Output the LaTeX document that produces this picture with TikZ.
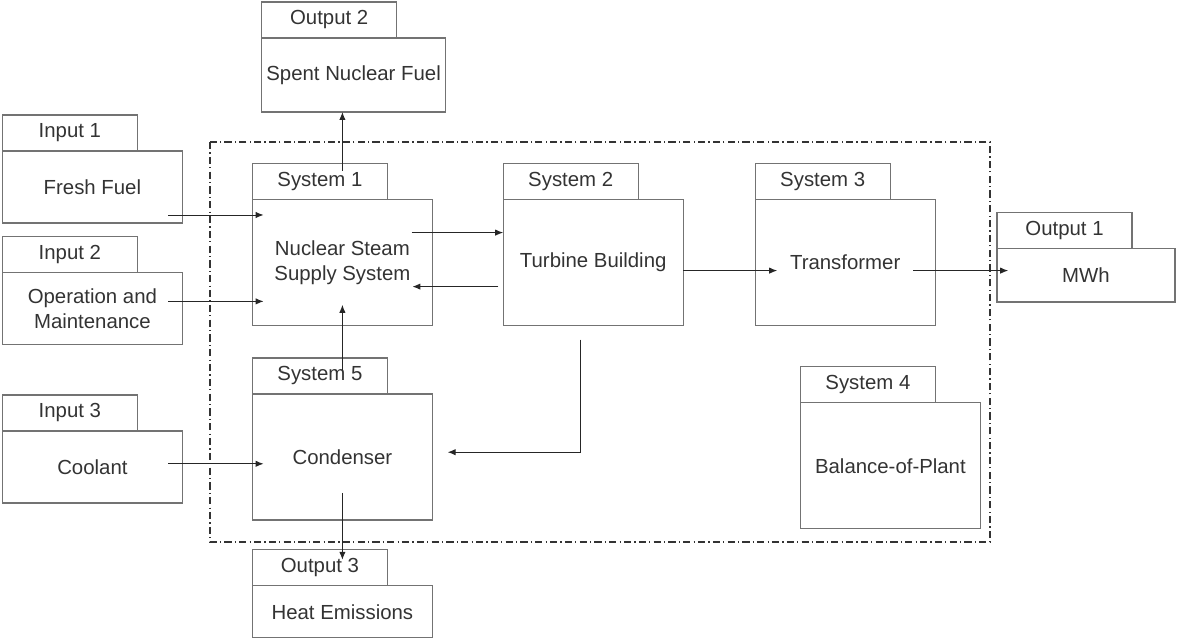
\documentclass[tikz,border=0pt]{standalone}
\usepackage{fontspec}
\setmainfont{Liberation Sans}
\usepackage{tikz}
\usetikzlibrary{arrows.meta,positioning,calc}
\definecolor{boxgray}{gray}{0.45}
\definecolor{textgray}{gray}{0.2}

\begin{document}
\begin{tikzpicture}[
        body/.style={rectangle, draw=boxgray, line width=0.9pt, outer sep=0pt, minimum width=4.5cm, align=center, text=textgray, font=\fontsize{14.5}{18}\selectfont},
        tab/.style={rectangle, draw=boxgray, line width=0.9pt, outer sep=0pt, minimum width=3.375cm, minimum height=0.9cm, anchor=south west, text=textgray, font=\fontsize{14.5}{18}\selectfont},
        arrow/.style={-{Latex[length=2mm,width=1.6mm]}, line width=0.7pt, black!85},
        frame/.style={line width=0.8pt, black!80, dash pattern=on 0.18cm off 0.08cm on 0.03cm off 0.08cm}
    ]
    \useasboundingbox (0,0) rectangle (29.425,16.025);

    % inputs
    \node[body, minimum height=1.8cm] (in1) at (2.31,11.35) {Fresh Fuel};
    \node[tab] (in1t) at (in1.north west) {Input 1};
    \node[body, minimum height=1.8cm] (in2) at (2.31,8.31) {Operation and\\Maintenance};
    \node[tab] (in2t) at (in2.north west) {Input 2};
    \node[body, minimum height=1.8cm] (in3) at (2.31,4.35) {Coolant};
    \node[tab] (in3t) at (in3.north west) {Input 3};

    % systems
    \draw[frame] (5.25,12.475) rectangle (24.75,2.475);
    \node[body, minimum height=3.15cm] (s1) at (8.56,9.46) {Nuclear Steam\\Supply System};
    \node[tab] (s1t) at (s1.north west) {System 1};
    \node[body, minimum height=3.15cm] (s2) at (14.83,9.46) {Turbine Building};
    \node[tab] (s2t) at (s2.north west) {System 2};
    \node[body, minimum height=3.15cm] (s3) at (21.13,9.46) {Transformer};
    \node[tab] (s3t) at (s3.north west) {System 3};
    \node[body, minimum height=3.15cm] (s4) at (22.26,4.38) {Balance-of-Plant};
    \node[tab] (s4t) at (s4.north west) {System 4};
    \node[body, minimum height=3.15cm] (s5) at (8.56,4.6) {Condenser};
    \node[tab] (s5t) at (s5.north west) {System 5};

    % outputs
    \node[body, minimum height=1.33cm, minimum width=4.45cm] (out1) at (27.15,9.14) {MWh};
    \node[tab] (out1t) at (out1.north west) {Output 1};
    \node[body, minimum height=1.85cm] (out2) at (8.84,14.15) {Spent Nuclear Fuel};
    \node[tab] (out2t) at (out2.north west) {Output 2};
    \node[body, minimum height=1.3cm] (out3) at (8.56,0.73) {Heat Emissions};
    \node[tab] (out3t) at (out3.north west) {Output 3};

    \draw[arrow] ($(in1.east)+(-0.35,-0.7)$) -- ($(in1.east -| s1.west)+(0.28,-0.7)$);
    \draw[arrow] ($(in2.east)+(-0.35,0.18)$) -- ($(in2.east -| s1.west)+(0.28,0.18)$);
    \draw[arrow] ($(in3.east)+(-0.35,0.08)$) -- ($(in3.east -| s5.west)+(0.28,0.08)$);
    \draw[arrow] ($(s1.east)+(-0.52,0.75)$) -- ($(s1.east -| s2.west)+(0,0.75)$);
    \draw[arrow] ($(s2.west)+(-0.12,-0.6)$) -- ($(s2.west -| s1.east)+(-0.5,-0.6)$);
    \draw[arrow] ($(s2.east)+(0,-0.2)$) -- ($(s2.east -| s3.west)+(0.55,-0.2)$);
    \draw[arrow] ($(s3.east)+(-0.55,-0.2)$) -- ($(s3.east -| out1.west)+(0.28,-0.2)$);
    \draw[arrow] ($(s1.north)+(0,0.72)$) -- (s1.north |- out2.south);
    \draw[arrow] ($(s5.north)+(0,0.6)$) -- ($(s1.south)+(0,0.52)$);
    \draw[arrow] ($(s2.south)+(-0.32,-0.35)$) |- ($(s5.east)+(0.38,0.12)$);
    \draw[arrow] ($(s5.south)+(0,0.68)$) -- ($(s5.south |- out3t.north)+(0,-0.25)$);
\end{tikzpicture}
\end{document}
